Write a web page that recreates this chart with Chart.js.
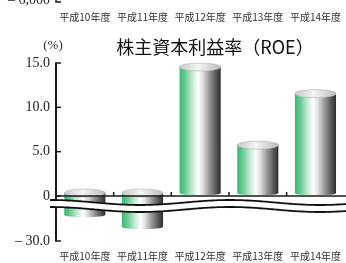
<!DOCTYPE html>
<html><head><meta charset="utf-8">
<style>
html,body{margin:0;padding:0;background:#fff;overflow:hidden;width:346px;height:263px}
#wrap{width:350px;height:263px;position:relative}
canvas{display:block}
</style>
<script src="https://cdn.jsdelivr.net/npm/chart.js@4.4.1/dist/chart.umd.min.js"></script>
</head><body><div id="wrap"><canvas id="c" width="350" height="263"></canvas></div>
<script>
const categories = ['平成10年度','平成11年度','平成12年度','平成13年度','平成14年度'];
const roeValues = [-14.5, -22.5, 14.2, 5.4, 11.2];
const yTickValues = [-30, 0, 5, 10, 15];
const yTickLabels = ['– 30.0', '0', '5.0', '10.0', '15.0'];
const titleText = '株主資本利益率（ROE）';
const unitText = '(%)';
const prevAxisLabel = '– 6,000';

const LOWER_FRAC = 45 / 178;
class BrokenScale extends Chart.LinearScale {
  zeroPixel() { return this.bottom - (this.bottom - this.top) * LOWER_FRAC; }
  getPixelForValue(v) {
    const z = this.zeroPixel();
    if (v >= 0) return z - (v / this.max) * (z - this.top);
    return z + (v / this.min) * (this.bottom - z);
  }
  getValueForPixel(p) {
    const z = this.zeroPixel();
    if (p <= z) return (z - p) / (z - this.top) * this.max;
    return (p - z) / (this.bottom - z) * this.min;
  }
}
BrokenScale.id = 'broken';
BrokenScale.defaults = Chart.LinearScale.defaults;
Chart.register(BrokenScale);

const decor = {
  id: 'decor',
  afterDatasetsDraw(chart) {
    const {ctx, scales: {x, y}} = chart;
    const meta = chart.getDatasetMeta(0);
    const s = 3, ry = 4;
    ctx.save();
    meta.data.forEach((bar) => {
      const p = bar.getProps(['x', 'y', 'base', 'width'], true);
      const w = p.width, cx = p.x, l = cx - w / 2, r = cx + w / 2;
      const top = Math.min(p.y, p.base) - s, bot = Math.max(p.y, p.base) - s;
      const g = ctx.createLinearGradient(l, 0, r, 0);
      g.addColorStop(0, '#3ab874');
      g.addColorStop(0.12, '#62c88f');
      g.addColorStop(0.3, '#bfe8cf');
      g.addColorStop(0.45, '#ffffff');
      g.addColorStop(0.55, '#e4e4e4');
      g.addColorStop(0.72, '#9a9a9a');
      g.addColorStop(0.88, '#5a5a5a');
      g.addColorStop(1, '#2e2e2e');
      ctx.beginPath();
      ctx.moveTo(l, top); ctx.lineTo(r, top); ctx.lineTo(r, bot);
      ctx.ellipse(cx, bot, w / 2, 2.5, 0, 0, Math.PI);
      ctx.closePath();
      ctx.fillStyle = g; ctx.fill();
      const g2 = ctx.createLinearGradient(l, 0, r, 0);
      g2.addColorStop(0, '#c8c8c8');
      g2.addColorStop(0.45, '#f4f4f4');
      g2.addColorStop(1, '#bcbcbc');
      ctx.beginPath();
      ctx.ellipse(cx, top, w / 2, ry, 0, 0, Math.PI * 2);
      ctx.fillStyle = g2; ctx.fill();
      ctx.lineWidth = 0.6; ctx.strokeStyle = '#b0b0b0'; ctx.stroke();
    });
    const z = y.getPixelForValue(0);
    const ax = y.right;
    ctx.strokeStyle = '#1a1a1a';
    ctx.lineWidth = 2;
    ctx.beginPath(); ctx.moveTo(ax, y.top); ctx.lineTo(ax, y.bottom); ctx.stroke();
    ctx.lineWidth = 1.5;
    yTickValues.forEach(v => {
      const py = y.getPixelForValue(v);
      ctx.beginPath(); ctx.moveTo(ax - 1, py); ctx.lineTo(ax + 5, py); ctx.stroke();
    });
    ctx.beginPath(); ctx.moveTo(ax, z); ctx.lineTo(chart.width, z); ctx.stroke();
    for (let i = 0; i < categories.length - 1; i++) {
      const bx = (x.getPixelForValue(i) + x.getPixelForValue(i + 1)) / 2;
      ctx.beginPath(); ctx.moveTo(bx, z); ctx.lineTo(bx, z - 4); ctx.stroke();
    }
    const x0 = ax - 6, x1 = chart.width;
    const wave = (xx, yc) => yc - 2.5 * Math.cos(2 * Math.PI * (xx - 50) / 180);
    const yu = z + 6.5, yl = z + 13.5;
    ctx.beginPath();
    for (let xx = x0; xx <= x1; xx += 2) { const yy = wave(xx, yu); xx === x0 ? ctx.moveTo(xx, yy) : ctx.lineTo(xx, yy); }
    for (let xx = x1; xx >= x0; xx -= 2) ctx.lineTo(xx, wave(xx, yl));
    ctx.closePath(); ctx.fillStyle = '#fff'; ctx.fill();
    ctx.lineWidth = 1.8; ctx.strokeStyle = '#111';
    [yu, yl].forEach(yc => {
      ctx.beginPath();
      for (let xx = x0; xx <= x1; xx += 2) { const yy = wave(xx, yc); xx === x0 ? ctx.moveTo(xx, yy) : ctx.lineTo(xx, yy); }
      ctx.stroke();
    });
    ctx.fillStyle = '#111';
    ctx.font = '18px "Noto Sans CJK JP"';
    ctx.textAlign = 'center'; ctx.textBaseline = 'middle';
    ctx.fillText(titleText, 215, 47);
    ctx.fillStyle = '#333';
    ctx.font = '13px "Liberation Serif"';
    ctx.fillText(unitText, 53, 46);
    ctx.fillStyle = '#222';
    ctx.font = '14px "Liberation Serif"';
    ctx.textAlign = 'right'; ctx.textBaseline = 'alphabetic';
    ctx.fillText(prevAxisLabel, 50, 4);
    ctx.lineWidth = 1.5; ctx.strokeStyle = '#1a1a1a';
    ctx.beginPath(); ctx.moveTo(ax, 0); ctx.lineTo(ax, 2); ctx.lineTo(ax + 5, 2); ctx.stroke();
    ctx.fillStyle = '#333';
    ctx.font = '10px "Noto Sans CJK JP"';
    ctx.textAlign = 'center'; ctx.textBaseline = 'middle';
    categories.forEach((c, i) => ctx.fillText(c, x.getPixelForValue(i), 17));
    ctx.restore();
  }
};

new Chart(document.getElementById('c'), {
  type: 'bar',
  data: {
    labels: categories,
    datasets: [{ data: roeValues, backgroundColor: 'rgba(0,0,0,0)', borderWidth: 0,
      barPercentage: 0.714, categoryPercentage: 1 }]
  },
  options: {
    responsive: false, animation: false, devicePixelRatio: 1,
    layout: { padding: { top: 63, left: 0, right: 0, bottom: 0 } },
    plugins: { legend: { display: false }, tooltip: { enabled: false }, title: { display: false } },
    scales: {
      x: {
        type: 'category', offset: true,
        afterFit: s => { s.height = 22; },
        grid: { display: false, drawTicks: false }, border: { display: false },
        ticks: { color: '#333', padding: 9, autoSkip: false, maxRotation: 0,
          font: { family: 'Noto Sans CJK JP', size: 10 } }
      },
      y: {
        type: 'broken', min: -30, max: 15,
        afterBuildTicks: s => { s.ticks = yTickValues.map(v => ({ value: v })); },
        afterFit: s => { s.width = 56; },
        grid: { display: false, drawTicks: false }, border: { display: false },
        ticks: { autoSkip: false, padding: 6, color: '#222',
          font: { family: 'Liberation Serif', size: 14 },
          callback: (v, i) => yTickLabels[i] }
      }
    }
  },
  plugins: [decor]
});
</script></body></html>
